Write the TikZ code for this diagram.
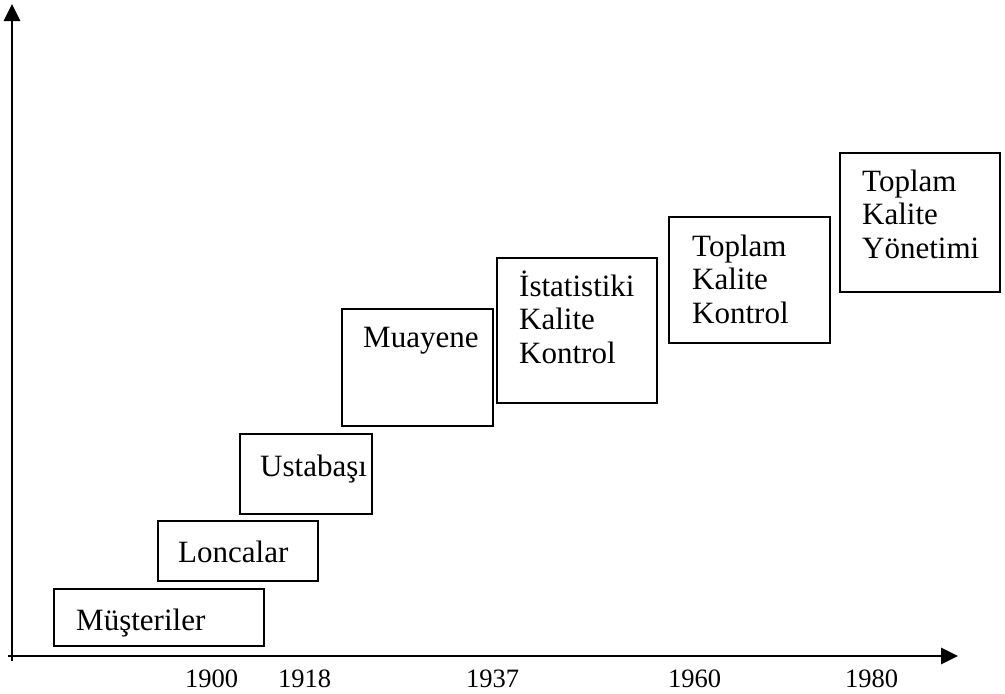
\documentclass[tikz,border=0pt]{standalone}
\usepackage{fontspec}
\setmainfont{Liberation Serif}
\usetikzlibrary{arrows.meta}
\begin{document}
\begin{tikzpicture}[x=1pt,y=-1pt,
  box/.style={draw, line width=2pt, rectangle, inner sep=0pt},
  lbl/.style={inner sep=0pt, anchor=base west, align=left, font=\fontsize{31}{33.5}\selectfont},
  yr/.style={inner sep=0pt, anchor=base west, font=\fontsize{26.5}{30}\selectfont},
  axis/.style={line width=2.7pt, -{Triangle[length=17pt,width=16pt]}}]
\useasboundingbox (0,0) rectangle (1005,694);
% axes
\coordinate (o1) at (12,661);
\coordinate (ytip) at (12,4);
\coordinate (o2) at (8,656);
\coordinate (xtip) at (958,656);
\draw[axis] (o1) -- (ytip);
\draw[axis] (o2) -- (xtip);
% boxes
\node[box, minimum width=210pt, minimum height=57pt] (b1) at (159,617.5) {};
\node[box, minimum width=160pt, minimum height=60pt] (b2) at (238,551) {};
\node[box, minimum width=132pt, minimum height=80pt] (b3) at (306,474) {};
\node[box, minimum width=151pt, minimum height=117pt] (b4) at (417.5,367.5) {};
\node[box, minimum width=160pt, minimum height=145pt] (b5) at (577,330.5) {};
\node[box, minimum width=161pt, minimum height=126pt] (b6) at (749.5,280) {};
\node[box, minimum width=160pt, minimum height=139pt] (b7) at (920,222.5) {};
% labels (multi-line labels are placed at the baseline of their last line)
\node[lbl] (t1) at (76,630) {Müşteriler};
\node[lbl] (t2) at (178,562) {Loncalar};
\node[lbl] (t3) at (260,476) {Ustabaşı};
\node[lbl] (t4) at (363,347) {Muayene};
\node[lbl] (t5) at (519,363) {İstatistiki\\Kalite\\Kontrol};
\node[lbl] (t6) at (692,323) {Toplam\\Kalite\\Kontrol};
\node[lbl] (t7) at (862,258) {Toplam\\Kalite\\Yönetimi};
% years
\node[yr] (y1) at (185,687) {1900};
\node[yr] (y2) at (278,687) {1918};
\node[yr] (y3) at (466,687) {1937};
\node[yr] (y4) at (668,687) {1960};
\node[yr] (y5) at (845,687) {1980};
\end{tikzpicture}
\end{document}
